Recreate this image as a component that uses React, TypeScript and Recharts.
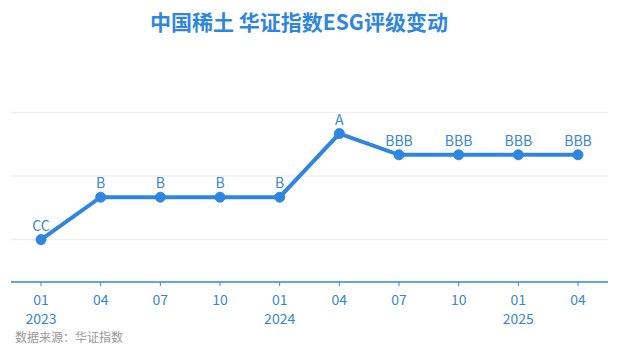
import React from "react";
import { LineChart, Line, XAxis, YAxis, CartesianGrid, LabelList } from "recharts";

const categories = ["2023-01", "2023-04", "2023-07", "2023-10", "2024-01", "2024-04", "2024-07", "2024-10", "2025-01", "2025-04"];
const ratings = ["CC", "B", "B", "B", "B", "A", "BBB", "BBB", "BBB", "BBB"];
const ratingScale = ["C", "CC", "CCC", "B", "BB", "BBB", "A", "AA", "AAA"];
const yTicks = [2, 5, 8];

const data = categories.map((c, i) => ({
  period: c,
  rating: ratings[i],
  value: ratingScale.indexOf(ratings[i]) + 1,
}));

const BLUE = "#2f86e0";
const TEXT_BLUE = "#3a86d4";
const FONT = "'Noto Sans CJK SC', 'Noto Sans', sans-serif";

const MonthTick = (props: any) => {
  const { x, y, payload } = props;
  const [year, month] = String(payload.value).split("-");
  return (
    <g transform={`translate(${x},${y})`}>
      <text x={0} y={0} dy={17} textAnchor="middle" fill={TEXT_BLUE} fontSize={14} fontFamily={FONT}>
        {month}
      </text>
      {month === "01" && (
        <text x={0} y={0} dy={36} textAnchor="middle" fill={TEXT_BLUE} fontSize={14} fontFamily={FONT}>
          {year}
        </text>
      )}
    </g>
  );
};

export default function App() {
  return (
    <div style={{ position: "absolute", left: 0, top: 0, width: 618, height: 355, background: "#fff" }}>
      <div
        style={{
          position: "absolute",
          left: 0,
          top: 7,
          width: 598,
          textAlign: "center",
          fontFamily: FONT,
          fontWeight: 700,
          fontSize: 21,
          lineHeight: "28px",
          color: BLUE,
        }}
      >
        中国稀土 华证指数ESG评级变动
      </div>
      <LineChart width={618} height={355} data={data} margin={{ top: 70, right: 10, bottom: 33, left: 11 }}>
        <CartesianGrid vertical={false} stroke="#f0f0f0" strokeWidth={1.5} horizontalValues={yTicks} />
        <XAxis
          dataKey="period"
          padding={{ left: 30, right: 30 }}
          axisLine={{ stroke: BLUE, strokeWidth: 1.5 }}
          tickLine={{ stroke: BLUE }}
          tickSize={4}
          tick={<MonthTick />}
          interval={0}
          height={40}
        />
        <YAxis hide domain={[0, 10]} ticks={yTicks} />
        <Line
          dataKey="value"
          stroke={BLUE}
          strokeWidth={4}
          dot={{ r: 5, fill: BLUE, stroke: BLUE, strokeWidth: 1 }}
          isAnimationActive={false}
        >
          <LabelList dataKey="rating" position="top" offset={9} fill={TEXT_BLUE} fontSize={14} fontFamily={FONT} />
        </Line>
      </LineChart>
      <div
        style={{
          position: "absolute",
          left: 15,
          top: 329,
          fontFamily: FONT,
          fontSize: 12,
          lineHeight: "16px",
          color: "#9a9a9a",
        }}
      >
        数据来源：华证指数
      </div>
    </div>
  );
}
